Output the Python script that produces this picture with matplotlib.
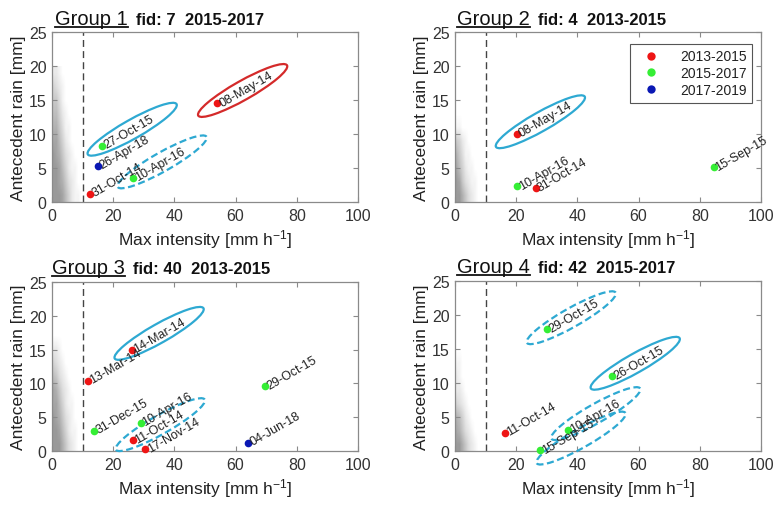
import numpy as np
import matplotlib
matplotlib.use('Agg')
import matplotlib.pyplot as plt
from matplotlib.patches import Ellipse
from matplotlib.transforms import ScaledTranslation
from matplotlib.colors import LinearSegmentedColormap
from matplotlib.lines import Line2D

plt.rcParams['font.family'] = ['Liberation Sans', 'DejaVu Sans']
plt.rcParams['mathtext.fontset'] = 'custom'
plt.rcParams['mathtext.rm'] = 'Liberation Sans'
plt.rcParams['mathtext.default'] = 'regular'

# ---------------- data ----------------
group_names = ['Group 1', 'Group 2', 'Group 3', 'Group 4']
subtitles = ['fid: 7  2015-2017', 'fid: 4  2013-2015',
             'fid: 40  2013-2015', 'fid: 42  2015-2017']
period_labels = ['2013-2015', '2015-2017', '2017-2019']
period_colors = ['#EE1515', '#35EE35', '#0A18B4']

g1_dates = ['08-May-14', '27-Oct-15', '26-Apr-18', '10-Apr-16', '31-Oct-14']
g1_x = [54.0, 16.5, 15.0, 26.5, 12.5]
g1_y = [14.5, 8.3, 5.3, 3.5, 1.2]
g1_period = [0, 1, 2, 1, 0]

g2_dates = ['08-May-14', '10-Apr-16', '31-Oct-14', '15-Sep-15']
g2_x = [20.3, 20.3, 26.4, 84.5]
g2_y = [10.0, 2.3, 2.0, 5.1]
g2_period = [0, 1, 0, 1]

g3_dates = ['14-Mar-14', '13-Mar-14', '29-Oct-15', '31-Dec-15',
            '10-Apr-16', '11-Oct-14', '17-Nov-14', '04-Jun-18']
g3_x = [26.2, 11.8, 69.6, 13.8, 29.0, 26.4, 30.5, 64.2]
g3_y = [15.0, 10.4, 9.6, 3.0, 4.2, 1.6, 0.3, 1.2]
g3_period = [0, 0, 1, 1, 1, 0, 0, 2]

g4_dates = ['29-Oct-15', '26-Oct-15', '11-Oct-14', '10-Apr-16', '15-Sep-15']
g4_x = [30.2, 51.4, 16.3, 37.0, 27.8]
g4_y = [17.9, 11.0, 2.7, 3.1, 0.1]
g4_period = [1, 1, 0, 1, 1]

# highlighted ellipses: centre x, centre y, colour index (0 red, 1 cyan), dashed flag
g1_ell_x = [62.3, 26.2, 36.0]
g1_ell_y = [16.4, 10.7, 5.9]
g1_ell_c = [0, 1, 1]
g1_ell_d = [False, False, True]

g2_ell_x = [27.9]
g2_ell_y = [11.8]
g2_ell_c = [1]
g2_ell_d = [False]

g3_ell_x = [35.0, 35.4]
g3_ell_y = [17.4, 3.9]
g3_ell_c = [1, 1]
g3_ell_d = [False, True]

g4_ell_x = [38.0, 58.9, 46.0, 41.2]
g4_ell_y = [19.6, 12.9, 5.5, 1.9]
g4_ell_c = [1, 1, 1, 1]
g4_ell_d = [True, False, True, True]

# background cloud of all rainfall events: estimated relative point density
# columns: x bins 0-1 ... 9-10 ; rows: y bins 0-2 ... 18-20 (bottom to top)
cloud1 = [[9, 9, 9, 8, 6, 4, 2, 1, 1, 0],
          [9, 9, 8, 7, 5, 3, 2, 1, 0, 0],
          [9, 9, 8, 6, 4, 2, 1, 1, 0, 0],
          [9, 8, 7, 5, 3, 2, 1, 0, 0, 0],
          [8, 8, 6, 4, 2, 1, 0, 0, 0, 0],
          [7, 7, 5, 3, 1, 1, 0, 0, 0, 0],
          [6, 6, 4, 2, 1, 0, 0, 0, 0, 0],
          [5, 5, 3, 1, 0, 0, 0, 0, 0, 0],
          [4, 3, 2, 1, 0, 0, 0, 0, 0, 0],
          [2, 2, 1, 0, 0, 0, 0, 0, 0, 0]]
cloud2 = [[9, 9, 7, 5, 3, 2, 1, 0, 0, 0],
          [9, 8, 5, 3, 2, 1, 1, 0, 0, 0],
          [8, 6, 4, 2, 1, 1, 0, 0, 0, 0],
          [7, 5, 3, 1, 1, 0, 0, 0, 0, 0],
          [5, 4, 2, 1, 0, 0, 0, 0, 0, 0],
          [1, 1, 0, 0, 0, 0, 0, 0, 0, 0],
          [0, 0, 0, 0, 0, 0, 0, 0, 0, 0],
          [0, 0, 0, 0, 0, 0, 0, 0, 0, 0],
          [0, 0, 0, 0, 0, 0, 0, 0, 0, 0],
          [0, 0, 0, 0, 0, 0, 0, 0, 0, 0]]
cloud3 = [[9, 9, 9, 7, 5, 3, 2, 1, 0, 0],
          [9, 9, 8, 6, 4, 2, 1, 1, 0, 0],
          [9, 8, 7, 5, 3, 2, 1, 0, 0, 0],
          [8, 8, 6, 4, 2, 1, 1, 0, 0, 0],
          [8, 7, 5, 3, 2, 1, 0, 0, 0, 0],
          [6, 5, 3, 2, 1, 0, 0, 0, 0, 0],
          [4, 3, 2, 1, 0, 0, 0, 0, 0, 0],
          [2, 2, 1, 0, 0, 0, 0, 0, 0, 0],
          [0, 0, 0, 0, 0, 0, 0, 0, 0, 0],
          [0, 0, 0, 0, 0, 0, 0, 0, 0, 0]]
cloud4 = [[9, 9, 7, 5, 3, 2, 1, 0, 0, 0],
          [8, 7, 5, 3, 2, 1, 0, 0, 0, 0],
          [7, 6, 4, 2, 1, 0, 0, 0, 0, 0],
          [4, 3, 2, 1, 0, 0, 0, 0, 0, 0],
          [2, 2, 1, 0, 0, 0, 0, 0, 0, 0],
          [2, 1, 0, 0, 0, 0, 0, 0, 0, 0],
          [1, 1, 0, 0, 0, 0, 0, 0, 0, 0],
          [0, 0, 0, 0, 0, 0, 0, 0, 0, 0],
          [0, 0, 0, 0, 0, 0, 0, 0, 0, 0],
          [0, 0, 0, 0, 0, 0, 0, 0, 0, 0]]

x_ticks = [0, 20, 40, 60, 80, 100]
y_ticks = [0, 5, 10, 15, 20, 25]
threshold_x = 10

# ---------------- figure ----------------
DPI = 100
fig = plt.figure(figsize=(7.74, 5.06), dpi=DPI)
W, H = 774, 506

def px_axes(l, t, r, b):
    return [l / W, 1 - b / H, (r - l) / W, (b - t) / H]

positions = [px_axes(52, 33, 358, 203), px_axes(455, 33, 761, 203),
             px_axes(52, 283, 358, 452), px_axes(455, 282, 761, 452)]
title_pos = [(55, 25), (457, 25), (52, 274), (457, 273)]

panels = [
    (g1_dates, g1_x, g1_y, g1_period, g1_ell_x, g1_ell_y, g1_ell_c, g1_ell_d, cloud1),
    (g2_dates, g2_x, g2_y, g2_period, g2_ell_x, g2_ell_y, g2_ell_c, g2_ell_d, cloud2),
    (g3_dates, g3_x, g3_y, g3_period, g3_ell_x, g3_ell_y, g3_ell_c, g3_ell_d, cloud3),
    (g4_dates, g4_x, g4_y, g4_period, g4_ell_x, g4_ell_y, g4_ell_c, g4_ell_d, cloud4),
]

cloud_cmap = LinearSegmentedColormap.from_list(
    'cloud', [(0.58, 0.58, 0.58, 0.0), (0.58, 0.58, 0.58, 0.45),
              (0.56, 0.56, 0.56, 0.9)])
ell_colors = ['#D42A2A', '#2EA9D2']
spine_col = '#8a8a8a'
text_col = '#222222'

renderer = fig.canvas.get_renderer()

for i, (dates, xs, ys, per, ex, ey, ec, ed, cloud) in enumerate(panels):
    ax = fig.add_axes(positions[i])
    ax.set_xlim(0, 100)
    ax.set_ylim(0, 25)
    ax.imshow(np.array(cloud, dtype=float), extent=(0, 10, 0, 20), origin='lower',
              cmap=cloud_cmap, vmin=0, vmax=9, interpolation='bilinear',
              aspect='auto', zorder=1)
    ax.axvline(threshold_x, color='#444444', lw=1.0, ls=(0, (5, 3)), zorder=2)

    # ellipses (size defined in pixels, tilted)
    for cx, cy, ci, dashed in zip(ex, ey, ec, ed):
        tr = fig.dpi_scale_trans + ScaledTranslation(cx, cy, ax.transData)
        e = Ellipse((0, 0), 102 / DPI, 19 / DPI, angle=29.5, transform=tr,
                    fill=False, edgecolor=ell_colors[ci], lw=1.6,
                    ls=(0, (3.2, 1.6)) if dashed else '-', clip_on=False, zorder=3)
        ax.add_patch(e)

    for d, x, y, p in zip(dates, xs, ys, per):
        ax.plot(x, y, 'o', color=period_colors[p], ms=5.5, mec='none', zorder=4,
                clip_on=False)
        ax.annotate(d, (x, y), xytext=(2, 0), textcoords='offset points',
                    rotation=30, rotation_mode='anchor', ha='left', va='center',
                    fontsize=9, color=text_col, zorder=5, annotation_clip=False)

    ax.set_xticks(x_ticks)
    ax.set_yticks(y_ticks)
    ax.tick_params(direction='in', top=True, right=True, length=3.5, width=0.8,
                   color=spine_col, labelsize=11.5, labelcolor='#333333', pad=4)
    for s in ax.spines.values():
        s.set_color(spine_col)
        s.set_linewidth(0.9)
    ax.set_xlabel('Max intensity [mm h$^{-1}$]', fontsize=12.5, color=text_col, labelpad=3)
    ax.set_ylabel('Antecedent rain [mm]', fontsize=12.5, color=text_col, labelpad=2)

    # title: underlined group name + bold subtitle
    tx, ty = title_pos[i]
    t1 = fig.text(tx / W, 1 - ty / H, group_names[i], fontsize=14.5, color='#111111',
                  ha='left', va='baseline')
    bb = t1.get_window_extent(renderer)
    fig.add_artist(Line2D([bb.x0 / W, bb.x1 / W], [(H - ty - 3) / H] * 2,
                          color='#111111', lw=1.3, transform=fig.transFigure))
    fig.text((bb.x1 + 8) / W, 1 - ty / H, subtitles[i], fontsize=12, fontweight='bold',
             color='#111111', ha='left', va='baseline')

    if i == 1:
        handles = [Line2D([], [], ls='none', marker='o', ms=6, mec='none', color=c)
                   for c in period_colors]
        leg = ax.legend(handles, period_labels, loc='upper right',
                        bbox_to_anchor=(0.9706, 0.93), borderaxespad=0,
                        fontsize=10, fancybox=False, framealpha=1,
                        edgecolor='#555555', handlelength=2.2, handletextpad=1.0,
                        borderpad=0.4, labelspacing=0.2)
        leg.get_frame().set_linewidth(0.8)
        for t in leg.get_texts():
            t.set_color(text_col)

fig.savefig('out.png', dpi=DPI)
